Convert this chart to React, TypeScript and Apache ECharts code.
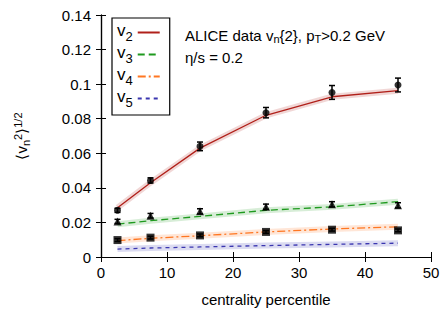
import React, { useEffect, useRef } from "react";
import * as echarts from "echarts";

const xs = [2.5, 7.5, 15, 25, 35, 45];
const v2Data = [0.027, 0.0443, 0.064, 0.0835, 0.0952, 0.0995];
const v2Err = [0.0012, 0.0015, 0.0025, 0.003, 0.004, 0.004];
const v3Data = [0.0206, 0.0239, 0.0264, 0.0291, 0.0305, 0.0299];
const v3Err = [0.0012, 0.0013, 0.0015, 0.0015, 0.0015, 0.0015];
const v4Data = [0.0098, 0.0112, 0.0125, 0.0145, 0.0158, 0.0154];
const v4Err = [0.0008, 0.0008, 0.0008, 0.0008, 0.0008, 0.0008];
const v2Model = [0.0285, 0.043, 0.063, 0.082, 0.0927, 0.0962];
const v3Model = [0.019, 0.021, 0.0235, 0.027, 0.029, 0.032];
const v4Model = [0.0095, 0.0108, 0.0123, 0.0145, 0.0162, 0.0175];
const v5Model = [0.0046, 0.0052, 0.0058, 0.0066, 0.0073, 0.008];
const xTicks = [0, 10, 20, 30, 40, 50];
const yTicks = [0, 0.02, 0.04, 0.06, 0.08, 0.1, 0.12, 0.14];

const FONT = "Liberation Sans";
const pair = (arr: number[]) => xs.map((x, i) => [x, arr[i]]);

export default function App() {
  const ref = useRef<HTMLDivElement>(null);
  useEffect(() => {
    const chart = echarts.init(ref.current!, undefined, { renderer: "svg" });
    const colors = {
      v2: "#b0201a",
      v3: "#1f9a1f",
      v4: "#ff7722",
      v5: "#3a36b0",
    };
    const band = (name: string, data: number[], color: string) => ({
      type: "line",
      name: name + "_band",
      data: pair(data),
      symbol: "none",
      silent: true,
      lineStyle: { width: 6, color, opacity: 0.18 },
      z: 1,
    });
    const model = (name: string, data: number[], color: string, type: any) => ({
      type: "line",
      name,
      data: pair(data),
      symbol: "none",
      showSymbol: false,
      lineStyle: { width: 1.3, color, type },
      itemStyle: { color },
      z: 2,
    });
    const errSeries = (data: number[], err: number[]) => ({
      type: "custom",
      data: xs.map((x, i) => [x, data[i], err[i]]),
      z: 3,
      renderItem: (params: any, api: any) => {
        const x = api.value(0);
        const y = api.value(1);
        const e = api.value(2);
        const p1 = api.coord([x, y + e]);
        const p2 = api.coord([x, y - e]);
        const c = 3;
        const st = { stroke: "#000", lineWidth: 1.5 };
        return {
          type: "group",
          children: [
            { type: "line", shape: { x1: p1[0], y1: p1[1], x2: p2[0], y2: p2[1] }, style: st },
            { type: "line", shape: { x1: p1[0] - c, y1: p1[1], x2: p1[0] + c, y2: p1[1] }, style: st },
            { type: "line", shape: { x1: p2[0] - c, y1: p2[1], x2: p2[0] + c, y2: p2[1] }, style: st },
          ],
        };
      },
    });
    const markers = (data: number[], symbol: string, size: number) => ({
      type: "scatter",
      data: pair(data),
      symbol,
      symbolSize: size,
      itemStyle: { color: "#000" },
      z: 4,
    });
    const axisCommon = {
      type: "value",
      axisLine: { show: true, lineStyle: { color: "#000", width: 1.2 } },
      axisTick: { show: true, inside: true, length: 5, lineStyle: { color: "#000" } },
      splitLine: { show: false },
    };
    chart.setOption({
      animation: false,
      grid: { left: 101, right: 15, top: 15, bottom: 56 },
      xAxis: [
        {
          ...axisCommon,
          min: 0,
          max: 50,
          interval: 10,
          position: "bottom",
          axisLabel: {
            fontSize: 15,
            color: "#000",
            fontFamily: FONT,
            margin: 8,
            formatter: (v: number) => {
              const t = xTicks.find((k) => Math.abs(k - v) < 1e-9);
              return t === undefined ? "" : String(t);
            },
          },
          name: "centrality percentile",
          nameLocation: "middle",
          nameGap: 35,
          nameTextStyle: { fontSize: 15, color: "#000", fontFamily: FONT },
        },
        {
          ...axisCommon,
          min: 0,
          max: 50,
          interval: 10,
          position: "top",
          axisLabel: { show: false },
        },
      ],
      yAxis: [
        {
          ...axisCommon,
          min: 0,
          max: 0.14,
          interval: 0.02,
          position: "left",
          axisLabel: {
            fontSize: 15,
            color: "#000",
            fontFamily: FONT,
            margin: 10,
            formatter: (v: number) => {
              const t = yTicks.find((k) => Math.abs(k - v) < 1e-9);
              return t === undefined ? "" : String(+t.toFixed(2));
            },
          },
          name: "⟨v{sub|n}{sup|2}⟩{sup|1/2}",
          nameLocation: "middle",
          nameRotate: 90,
          nameGap: 70,
          nameTextStyle: {
            fontSize: 15,
            color: "#000",
            fontFamily: FONT,
            rich: {
              sub: { fontSize: 11, fontFamily: FONT, color: "#000", padding: [8, 0, 0, 0] },
              sup: { fontSize: 11, fontFamily: FONT, color: "#000", padding: [0, 0, 8, 0] },
            },
          },
        },
        {
          ...axisCommon,
          min: 0,
          max: 0.14,
          interval: 0.02,
          position: "right",
          axisLabel: { show: false },
        },
      ],
      legend: {
        show: true,
        data: ["v2", "v3", "v4", "v5"],
        orient: "vertical",
        left: 112,
        top: 18,
        align: "right",
        borderColor: "#000",
        borderWidth: 1.2,
        borderRadius: 0,
        padding: [4, 9, 6, 5],
        itemGap: 1,
        itemWidth: 22,
        itemHeight: 18,
        itemStyle: { opacity: 0 },
        formatter: (n: string) => `{v|v}{s|${n.slice(1)}}`,
        textStyle: {
          fontFamily: FONT,
          color: "#000",
          rich: {
            v: { fontSize: 17, fontFamily: FONT, color: "#000", lineHeight: 19, padding: [0, 0, 4, 0] },
            s: { fontSize: 13, fontFamily: FONT, color: "#000", padding: [8, 0, 0, 0] },
          },
        },
      },
      graphic: [
        {
          type: "text",
          left: 185,
          top: 28,
          style: {
            text: "ALICE data v{s|n}{2}, p{s|T}>0.2 GeV",
            fontSize: 15,
            fontFamily: FONT,
            fill: "#000",
            rich: { s: { fontSize: 11, fontFamily: FONT, fill: "#000", padding: [7, 0, 0, 0] } },
          },
        },
        {
          type: "text",
          left: 185,
          top: 50,
          style: { text: "η/s = 0.2", fontSize: 15, fontFamily: FONT, fill: "#000" },
        },
      ],
      series: [
        band("v2", v2Model, colors.v2),
        band("v3", v3Model, colors.v3),
        band("v4", v4Model, colors.v4),
        band("v5", v5Model, colors.v5),
        model("v2", v2Model, colors.v2, "solid"),
        model("v3", v3Model, colors.v3, [7, 4]),
        model("v4", v4Model, colors.v4, [8, 3, 2, 3]),
        model("v5", v5Model, colors.v5, [4, 4]),
        errSeries(v2Data, v2Err),
        errSeries(v3Data, v3Err),
        errSeries(v4Data, v4Err),
        markers(v2Data, "circle", 7),
        markers(v3Data, "triangle", 8),
        markers(v4Data, "rect", 8),
      ],
    } as any);
    return () => chart.dispose();
  }, []);
  return (
    <div
      ref={ref}
      style={{ position: "absolute", left: 0, top: 0, width: 446, height: 313 }}
    />
  );
}
